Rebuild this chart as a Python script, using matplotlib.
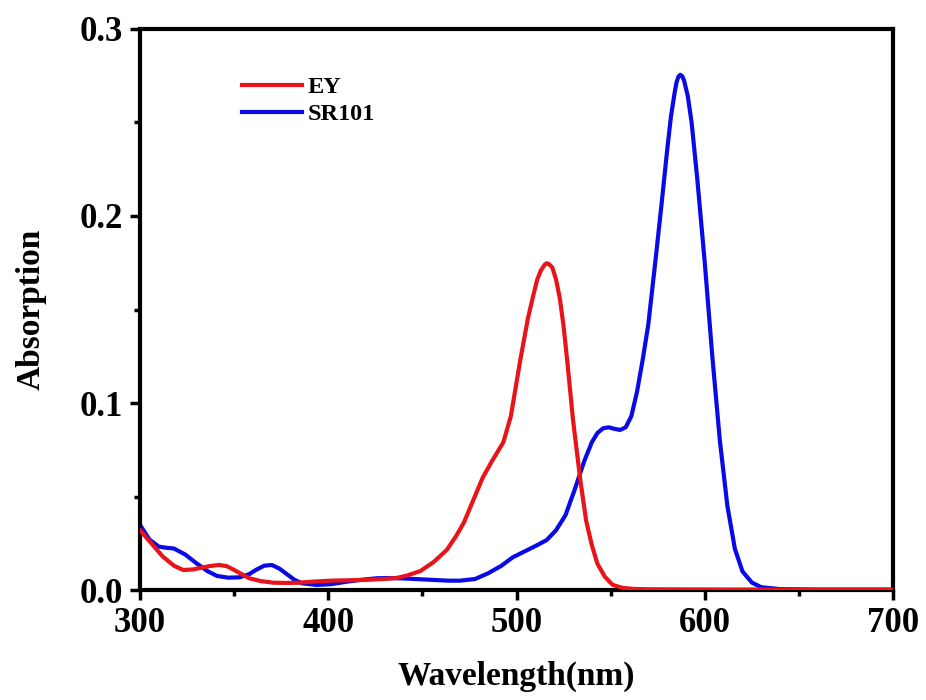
import matplotlib
matplotlib.use("Agg")
import matplotlib.pyplot as plt
from matplotlib.ticker import MultipleLocator, FormatStrFormatter

plt.rcParams['font.family'] = ['Liberation Serif', 'DejaVu Serif']
plt.rcParams['font.weight'] = 'bold'

# EY absorption spectrum
ey_wl = [300, 306, 312, 318, 323, 328, 332, 337, 342, 346, 350, 354, 358, 364, 371,
         378, 384, 392, 401, 410, 419, 428, 436, 442, 449, 456, 463, 468, 472, 477,
         482, 487, 493, 497, 502, 506, 509, 511, 513, 515, 516, 517, 519, 521, 523,
         525, 527, 530, 534, 537, 540, 543, 547, 551, 556, 562, 570, 600, 650, 700]
ey_abs = [0.032, 0.025, 0.018, 0.013, 0.0107, 0.0110, 0.0118, 0.0128, 0.0134, 0.0128,
          0.0107, 0.0085, 0.0063, 0.0048, 0.0039, 0.0038, 0.0039, 0.0045, 0.0050, 0.0052,
          0.0054, 0.0058, 0.0064, 0.0078, 0.0102, 0.0150, 0.0215, 0.029, 0.036, 0.048,
          0.060, 0.069, 0.079, 0.093, 0.123, 0.145, 0.158, 0.166, 0.171, 0.1740, 0.1747,
          0.1745, 0.1725, 0.166, 0.156, 0.141, 0.122, 0.091, 0.058, 0.037, 0.024, 0.014,
          0.007, 0.0028, 0.0012, 0.0006, 0.0004, 0.0003, 0.0002, 0.0002]

# SR101 absorption spectrum
sr_wl = [300, 305, 310, 314, 318, 324, 330, 336, 341, 347, 353, 358, 362, 366, 370,
         374, 378, 382, 386, 394, 402, 410, 418, 426, 432, 440, 448, 456, 464, 470,
         478, 485, 492, 498, 504, 510, 516, 521, 526, 531, 536, 540, 543, 546, 549,
         552, 555, 558, 561, 564, 567, 570, 574, 577, 580, 582, 584, 585, 586, 587,
         588, 589, 591, 593, 596, 600, 604, 608, 612, 616, 620, 625, 630, 640, 660, 700]
sr_abs = [0.0348, 0.027, 0.0232, 0.0226, 0.0222, 0.019, 0.0143, 0.0100, 0.0075, 0.0066,
          0.0068, 0.0085, 0.0110, 0.0130, 0.0134, 0.0115, 0.0085, 0.0055, 0.0036, 0.0027,
          0.0032, 0.0045, 0.0055, 0.0063, 0.0064, 0.0062, 0.0058, 0.0054, 0.0050, 0.0050,
          0.0059, 0.0090, 0.0130, 0.0175, 0.0205, 0.0235, 0.0267, 0.032, 0.040, 0.054,
          0.069, 0.079, 0.084, 0.0865, 0.087, 0.0862, 0.0856, 0.0870, 0.093, 0.106,
          0.123, 0.142, 0.178, 0.206, 0.235, 0.253, 0.266, 0.2715, 0.2745, 0.2755,
          0.2748, 0.2725, 0.264, 0.250, 0.220, 0.175, 0.125, 0.080, 0.045, 0.022,
          0.010, 0.004, 0.0015, 0.0005, 0.0002, 0.0002]

fig = plt.figure(figsize=(9.26, 7.0), dpi=100)
ax = fig.add_axes([0.1512, 0.1571, 0.8132, 0.8015])

ax.plot(ey_wl, ey_abs, color='#e8141a', lw=3.0, label='EY', zorder=3)
ax.plot(sr_wl, sr_abs, color='#0a0ae6', lw=3.0, label='SR101', zorder=2)

ax.set_xlim(300, 700)
ax.set_ylim(0, 0.3)
ax.xaxis.set_major_locator(MultipleLocator(100))
ax.xaxis.set_minor_locator(MultipleLocator(50))
ax.yaxis.set_major_locator(MultipleLocator(0.1))
ax.yaxis.set_minor_locator(MultipleLocator(0.05))
ax.yaxis.set_major_formatter(FormatStrFormatter('%.1f'))

for s in ax.spines.values():
    s.set_linewidth(3.0)
ax.tick_params(which='major', direction='out', length=7, width=2.5,
               labelsize=25, top=False, right=False, pad=5)
ax.tick_params(which='minor', direction='out', length=4, width=2.5,
               top=False, right=False)

ax.set_xlabel('Wavelength(nm)', fontsize=24, fontweight='bold', labelpad=15)
ax.set_ylabel('Absorption', fontsize=24, fontweight='bold', labelpad=24)

leg = ax.legend(loc='upper left', bbox_to_anchor=(0.106, 0.955), frameon=False,
                handlelength=2.5, handletextpad=0.2, labelspacing=0.22,
                prop={'weight': 'bold', 'size': 17.5})

fig.savefig('out.png', dpi=100)
